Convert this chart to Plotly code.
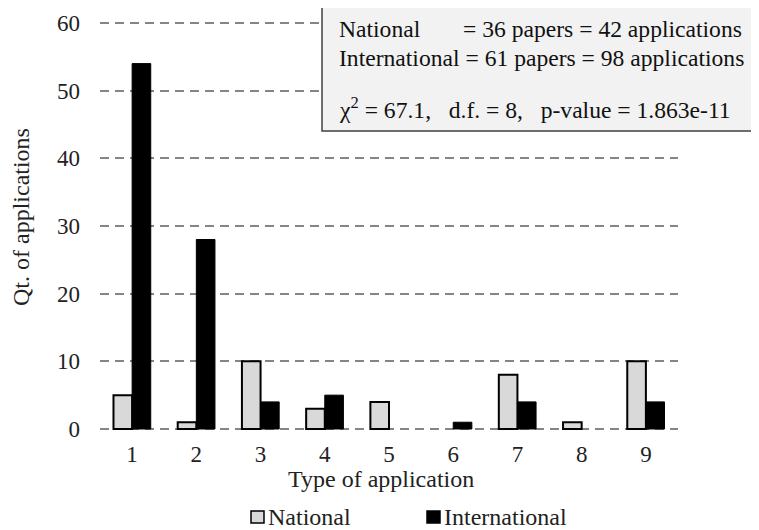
import plotly.graph_objects as go

categories = ["1", "2", "3", "4", "5", "6", "7", "8", "9"]
national = [5, 1, 10, 3, 4, 0, 8, 1, 10]
international = [54, 28, 4, 5, 0, 1, 4, 0, 4]
y_ticks = [0, 10, 20, 30, 40, 50, 60]

FONT = "Liberation Serif, Times New Roman, serif"
OFF = 8                      # page body margin of the browser
W, H = 759 - OFF, 530 - OFF  # figure size so the page fits the window
# plot area in window pixel coordinates
PL, PR, PT, PB = 100, 678, 22, 430
pw, ph = PR - PL, PB - PT

def px(x):
    return (x - PL) / pw

def py(y):
    return (PB - y) / ph

fig = go.Figure()
fig.add_bar(x=categories, y=national, name="National",
            marker=dict(color="#d9d9d9",
                        line=dict(color="#000000", width=[2 if v else 0 for v in national])))
fig.add_bar(x=categories, y=international, name="International",
            marker=dict(color="#000000",
                        line=dict(color="#000000", width=[1 if v else 0 for v in international])))

fig.update_layout(
    width=W, height=H,
    margin=dict(l=PL - OFF, r=W - (PR - OFF), t=PT - OFF, b=H - (PB - OFF), autoexpand=False),
    paper_bgcolor="white", plot_bgcolor="white",
    font=dict(family=FONT, size=24, color="#222222"),
    barmode="group", bargap=0.42, bargroupgap=0,
    showlegend=False,
)
fig.update_xaxes(showgrid=False, zeroline=False, showline=False, ticks="",
                 ticklabelstandoff=8,
                 tickfont=dict(family=FONT, size=23, color="#222222"))
fig.update_yaxes(range=[-0.15, 60.15], tickvals=y_ticks, showgrid=True,
                 gridcolor="#858585", griddash="9px,6px", gridwidth=2,
                 zeroline=False, showline=False, ticks="", ticklabelstandoff=19,
                 tickfont=dict(family=FONT, size=23, color="#222222"))

txt = dict(family=FONT, size=24, color="#222222")
# axis titles
fig.add_annotation(x=px(21), y=py(217), xref="paper", yref="paper", text="Qt. of applications",
                   textangle=-90, showarrow=False, xanchor="center", yanchor="middle", font=txt)
fig.add_annotation(x=px(381), y=py(479), xref="paper", yref="paper", text="Type of application",
                   showarrow=False, xanchor="center", yanchor="middle", font=txt)

# legend
fig.add_shape(type="rect", xref="paper", yref="paper", x0=px(251), x1=px(264), y0=py(523), y1=py(511),
              fillcolor="#d9d9d9", line=dict(color="#000000", width=1.5))
fig.add_annotation(x=px(266), y=py(517), xref="paper", yref="paper", text="National",
                   showarrow=False, xanchor="left", yanchor="middle", font=txt)
fig.add_shape(type="rect", xref="paper", yref="paper", x0=px(427), x1=px(440), y0=py(523), y1=py(511),
              fillcolor="#000000", line=dict(color="#000000", width=1.5))
fig.add_annotation(x=px(442), y=py(517), xref="paper", yref="paper", text="International",
                   showarrow=False, xanchor="left", yanchor="middle", font=txt)

# info box
fig.add_shape(type="rect", xref="paper", yref="paper",
              x0=px(322), x1=px(757.5), y0=py(131), y1=py(1),
              fillcolor="#f2f2f2", line=dict(color="#404040", width=1.5), layer="above")
box_font = dict(family=FONT, size=23.6, color="#111111")
fig.add_annotation(x=px(337), y=py(29), xref="paper", yref="paper", text="National",
                   showarrow=False, xanchor="left", yanchor="middle", font=box_font)
fig.add_annotation(x=px(744), y=py(29), xref="paper", yref="paper",
                   text="= 36 papers = 42 applications",
                   showarrow=False, xanchor="right", yanchor="middle", font=box_font)
fig.add_annotation(x=px(337), y=py(58), xref="paper", yref="paper",
                   text="International = 61 papers = 98 applications",
                   showarrow=False, xanchor="left", yanchor="middle", font=box_font)
fig.add_annotation(x=px(337), y=py(108), xref="paper", yref="paper",
                   text="\u03c7<sup>2</sup> = 67.1,\u00a0\u00a0 d.f. = 8,\u00a0\u00a0 p-value = 1.863e-11",
                   showarrow=False, xanchor="left", yanchor="middle", font=box_font)

fig.write_html("out.html")
